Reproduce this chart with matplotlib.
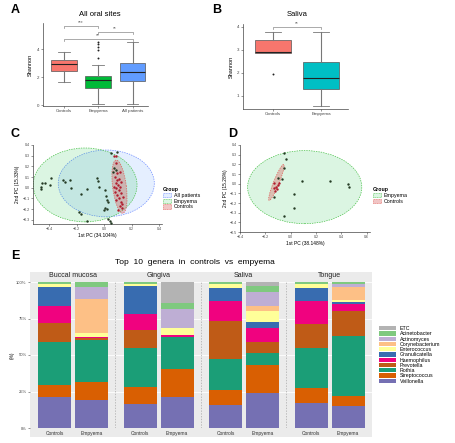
import matplotlib
matplotlib.use("Agg")
import matplotlib.pyplot as plt
from matplotlib.patches import Ellipse, Patch, Rectangle

plt.rcParams["font.family"] = ["Liberation Sans", "DejaVu Sans"]

W, H = 456, 443

# ---- panel A: Shannon, all oral sites
a_groups = ["Controls", "Empyema", "All patients"]
a_whislo = [1.67, 0.07, 0.07]
a_q1 = [2.45, 1.24, 1.74]
a_med = [2.93, 1.79, 2.38]
a_q3 = [3.21, 2.07, 2.98]
a_whishi = [3.81, 2.86, 4.52]
a_fliers = [[], [3.33, 3.95, 4.18, 4.35, 4.52], []]
a_colors = ["#f8766d", "#00ba38", "#619cff"]
a_pairs = [(1, 2), (1, 3), (2, 3)]
a_bracket_y = [5.64, 4.71, 5.21]
a_signif = ["***", "**", "**"]

# ---- panel B: Shannon, saliva
b_groups = ["Controls", "Empyema"]
b_whislo = [2.87, 0.55]
b_q1 = [2.87, 1.29]
b_med = [2.91, 1.76]
b_q3 = [3.42, 2.48]
b_whishi = [3.76, 3.78]
b_fliers = [[1.94], []]
b_colors = ["#f8766d", "#00bfc4"]

# ---- panel C: PCoA, all oral sites
c_other_x = [-0.464, -0.460, -0.452, -0.429, -0.398, -0.388, -0.302, -0.286, -0.25, -0.245,
             -0.167, -0.126, -0.186, -0.171, -0.124, -0.052, -0.048, -0.036, 0.007, 0.012,
             0.017, 0.024, 0.007, 0.017, -0.005, 0.029, 0.040, 0.048, 0.05, 0.095,
             0.069, 0.083, 0.064]
c_other_y = [0.011, -0.014, 0.042, 0.048, 0.026, 0.095, 0.073, 0.057, 0.073, -0.005,
             -0.061, -0.014, -0.229, -0.248, -0.31, 0.095, 0.067, 0.004, -0.021, -0.074,
             -0.114, -0.13, -0.186, -0.201, -0.207, -0.292, -0.31, -0.332, 0.328, 0.335,
             0.182, 0.166, 0.151]
c_ctrl_x = [0.067, 0.083, 0.083, 0.095, 0.114, 0.079, 0.095, 0.107, 0.119, 0.083,
            0.102, 0.112, 0.071, 0.088, 0.107, 0.079, 0.119, 0.095, 0.136, 0.107,
            0.088, 0.119, 0.131, 0.112, 0.126, 0.102]
c_ctrl_y = [0.297, 0.297, 0.229, 0.135, 0.151, 0.104, 0.073, 0.079, 0.057, 0.042,
            0.026, 0.011, 0.011, -0.005, -0.021, -0.036, -0.052, -0.067, -0.083, -0.098,
            -0.114, -0.13, -0.151, -0.176, -0.192, -0.207]
c_groups = ["All patients", "Empyema", "Controls"]
c_ell_center = [(0.014, 0.04), (-0.14, 0.026), (0.11, 0.01)]
c_ell_size = [(0.70, 0.626), (0.756, 0.692), (0.50, 0.10)]
c_ell_angle = [0, 0, 95.5]

# ---- panel D: PCoA, saliva
d_other_x = [-0.057, -0.039, -0.057, -0.104, -0.070, 0.091, 0.307, 0.451, 0.456, 0.026,
             -0.135, 0.026, -0.052]
d_other_y = [0.314, 0.252, 0.166, 0.056, 0.046, 0.032, 0.032, -0.002, -0.036, -0.105,
             -0.133, -0.253, -0.332]
d_ctrl_x = [-0.130, -0.117, -0.135, -0.104, -0.122, -0.109, -0.091]
d_ctrl_y = [0.005, -0.030, -0.047, -0.012, -0.071, -0.057, 0.012]
d_groups = ["Empyema", "Controls"]
d_ell_center = [(0.11, -0.036), (-0.113, 0.013)]
d_ell_size = [(0.90, 0.756), (0.39, 0.045)]
d_ell_angle = [0, 73]

ell_edge = {"All patients": "#6f8dff", "Empyema": "#4cc24c", "Controls": "#e0605a"}
ell_fill = {"All patients": (0.38, 0.61, 1.0, 0.16), "Empyema": (0.0, 0.73, 0.22, 0.14),
            "Controls": (0.85, 0.35, 0.35, 0.35)}

# ---- panel E: top 10 genera
sites = ["Buccal mucosa", "Gingiva", "Saliva", "Tongue"]
conditions = ["Controls", "Empyema"]
genera = ["Veillonella", "Streptococcus", "Rothia", "Prevotella", "Haemophilus",
          "Granulicatella", "Enterococcus", "Corynebacterium", "Actinomyces",
          "Acinetobacter", "ETC"]
# bar order: Buccal C/E, Gingiva C/E, Saliva C/E, Tongue C/E
veillonella = [21.0, 18.9, 16.4, 20.9, 15.5, 24.3, 17.0, 14.8]
streptococcus = [8.4, 13.0, 11.4, 19.3, 10.2, 18.9, 10.2, 7.3]
rothia = [29.5, 28.4, 26.8, 22.3, 21.6, 8.0, 27.3, 41.1]
prevotella = [13.2, 1.6, 12.3, 0.0, 25.9, 7.5, 16.4, 16.8]
haemophilus = [11.8, 0.5, 10.9, 1.1, 13.9, 10.0, 15.9, 4.8]
granulicatella = [13.0, 0.0, 19.3, 0.0, 9.1, 4.1, 9.1, 1.6]
enterococcus = [1.8, 2.5, 1.8, 4.5, 2.7, 7.3, 3.0, 1.6]
corynebacterium = [0.0, 23.9, 0.0, 0.0, 0.0, 3.4, 0.0, 8.6]
actinomyces = [0.0, 8.0, 0.0, 13.2, 0.0, 9.8, 0.0, 2.3]
acinetobacter = [1.1, 3.4, 1.1, 4.5, 1.1, 4.1, 1.1, 1.1]
etc = [0.2, 0.0, 0.0, 14.1, 0.0, 2.7, 0.0, 0.0]
genus_values = [veillonella, streptococcus, rothia, prevotella, haemophilus,
                granulicatella, enterococcus, corynebacterium, actinomyces,
                acinetobacter, etc]
genus_colors = ["#7570b3", "#d95f02", "#1b9e77", "#bf5b17", "#f0027f", "#386cb0",
                "#ffff99", "#fdc086", "#beaed4", "#7fc97f", "#b3b3b3"]


def add_ax(x0, y0, x1, y1):
    return fig.add_axes([x0 / W, 1 - y1 / H, (x1 - x0) / W, (y1 - y0) / H])


def style_classic(ax):
    for s in ["top", "right"]:
        ax.spines[s].set_visible(False)
    for s in ["left", "bottom"]:
        ax.spines[s].set_linewidth(0.5)
        ax.spines[s].set_color("#444444")
    ax.tick_params(labelsize=3.2, length=1.5, width=0.4, pad=1, colors="#444444")


def boxes(ax, groups, lo, q1, med, q3, hi, fliers, colors):
    stats = []
    for i in range(len(groups)):
        stats.append({"whislo": lo[i], "q1": q1[i], "med": med[i], "q3": q3[i],
                      "whishi": hi[i], "fliers": fliers[i], "label": groups[i]})
    bp = ax.bxp(stats, widths=0.75, patch_artist=True, showfliers=True,
                boxprops=dict(linewidth=0.5, edgecolor="#555555"),
                whiskerprops=dict(color="#777777", linewidth=0.8),
                capprops=dict(color="#777777", linewidth=0.6),
                medianprops=dict(color="#222222", linewidth=0.8),
                flierprops=dict(marker="o", markersize=1.4, markerfacecolor="#222222",
                                markeredgecolor="none"))
    for patch, col in zip(bp["boxes"], colors):
        patch.set_facecolor(col)
    for cap in bp["caps"]:
        x = cap.get_xdata()
        c = x.mean()
        cap.set_xdata([c - 0.17, c + 0.17])


def bracket(ax, x1, x2, y, label, drop):
    ax.plot([x1, x1, x2, x2], [y - drop, y, y, y - drop], color="#888888", lw=0.5,
            clip_on=False)
    ax.text((x1 + x2) / 2, y + drop * 0.4, label, ha="center", va="bottom",
            fontsize=3.5, color="#666666")


def pcoa(ax, groups, centers, sizes, angles, ox, oy, cx, cy):
    for g, c, s, a in zip(groups, centers, sizes, angles):
        ax.add_patch(Ellipse(c, s[0], s[1], angle=a, facecolor=ell_fill[g],
                             edgecolor=ell_edge[g], linestyle=(0, (2, 1.5)), lw=0.5))
    ax.scatter(ox, oy, s=3, color="#243b24", zorder=3, linewidths=0)
    ax.scatter(cx, cy, s=3, color="#b01c2e", zorder=3, linewidths=0)
    style_classic(ax)
    ax.tick_params(labelsize=2.6)


def group_legend(groups, x, y):
    handles = [Patch(facecolor=ell_fill[g], edgecolor=ell_edge[g], linestyle=(0, (2, 1)),
                     lw=0.4) for g in groups]
    leg = fig.legend(handles, groups, loc="upper left", bbox_to_anchor=(x / W, 1 - y / H),
                     fontsize=3.8, frameon=False, title="Group", handlelength=1.6,
                     handleheight=0.9, labelspacing=0.15, handletextpad=0.5,
                     borderpad=0, borderaxespad=0)
    leg.get_title().set_fontsize(3.8)
    leg.get_title().set_fontweight("bold")
    leg._legend_box.align = "left"


fig = plt.figure(figsize=(W / 100, H / 100), dpi=100)

# panel A
ax_a = add_ax(43, 23, 148, 106)
boxes(ax_a, a_groups, a_whislo, a_q1, a_med, a_q3, a_whishi, a_fliers, a_colors)
for (i, j), y, lab in zip(a_pairs, a_bracket_y, a_signif):
    bracket(ax_a, i, j, y, lab, 0.12)
ax_a.set_xlim(0.4, 3.45)
ax_a.set_ylim(-0.07, 5.86)
ax_a.set_yticks([0, 2, 4])
style_classic(ax_a)
ax_a.set_ylabel("Shannon", fontsize=4, labelpad=3)
fig.text(100 / W, 1 - 15 / H, "All oral sites", ha="center", va="center", fontsize=5.5)

# panel B
ax_b = add_ax(243, 24, 348, 109)
boxes(ax_b, b_groups, b_whislo, b_q1, b_med, b_q3, b_whishi, b_fliers, b_colors)
bracket(ax_b, 1, 2, 4.0, "**", 0.08)
ax_b.set_xlim(0.375, 2.56)
ax_b.set_ylim(0.42, 4.12)
ax_b.set_yticks([1, 2, 3, 4])
style_classic(ax_b)
ax_b.set_ylabel("Shannon", fontsize=4, labelpad=2)
fig.text(297 / W, 1 - 14 / H, "Saliva", ha="center", va="center", fontsize=5.5)

# panel C
ax_c = add_ax(33, 145, 162, 224)
pcoa(ax_c, c_groups, c_ell_center, c_ell_size, c_ell_angle,
     c_other_x, c_other_y, c_ctrl_x, c_ctrl_y)
ax_c.set_xlim(-0.52, 0.42)
ax_c.set_ylim(-0.34, 0.40)
ax_c.set_xticks([-0.4, -0.2, 0.0, 0.2, 0.4])
ax_c.set_yticks([-0.3, -0.2, -0.1, 0.0, 0.1, 0.2, 0.3, 0.4])
ax_c.set_xlabel("1st PC (34.104%)", fontsize=3.5, labelpad=1)
ax_c.set_ylabel("2nd PC (15.33%)", fontsize=3.5, labelpad=2)
group_legend(c_groups, 163, 187)

# panel D
ax_d = add_ax(240, 145, 370, 232)
pcoa(ax_d, d_groups, d_ell_center, d_ell_size, d_ell_angle,
     d_other_x, d_other_y, d_ctrl_x, d_ctrl_y)
ax_d.set_xlim(-0.39, 0.625)
ax_d.set_ylim(-0.5, 0.4)
ax_d.set_xticks([-0.4, -0.2, 0.0, 0.2, 0.4, 0.6])
ax_d.set_yticks([-0.5, -0.4, -0.3, -0.2, -0.1, 0.0, 0.1, 0.2, 0.3, 0.4])
ax_d.set_xlabel("1st PC (38.148%)", fontsize=3.5, labelpad=1)
ax_d.set_ylabel("2nd PC (15.28%)", fontsize=3.5, labelpad=1)
group_legend(d_groups, 373, 187)

# panel E
fig.add_artist(Rectangle((30 / W, 1 - 437 / H), 342 / W, 165 / H, transform=fig.transFigure,
                         facecolor="#ebebeb", edgecolor="none", zorder=-1))
ax_e = add_ax(30, 282, 372, 428)
ax_e.set_facecolor("none")
offsets = [0.29, 0.72]
xs, xlabels = [], []
for i in range(len(sites)):
    for k in range(len(conditions)):
        xs.append(i + offsets[k])
        xlabels.append(conditions[k])
totals = [sum(v[b] for v in genus_values) for b in range(len(xs))]
bottom = [0.0] * len(xs)
for vals, col in zip(genus_values, genus_colors):
    h = [100 * v / t for v, t in zip(vals, totals)]
    ax_e.bar(xs, h, width=0.385, bottom=bottom, color=col, edgecolor="none", zorder=2)
    bottom = [b + hh for b, hh in zip(bottom, h)]
for i in range(1, len(sites)):
    ax_e.axvline(i, color="#a8a8a8", lw=0.5, ls=(0, (2, 2)), zorder=1)
for i, s in enumerate(sites):
    ax_e.text(i + 0.5, 104.2, s, ha="center", va="center", fontsize=5, color="#222222")
ax_e.set_xlim(0, 4)
ax_e.set_ylim(0, 100)
ax_e.set_yticks([0, 25, 50, 75, 100])
ax_e.set_yticklabels(["0%", "25%", "50%", "75%", "100%"])
ax_e.set_xticks(xs)
ax_e.set_xticklabels(xlabels)
ax_e.grid(axis="y", color="white", lw=0.6)
ax_e.set_axisbelow(True)
for s in ax_e.spines.values():
    s.set_visible(False)
ax_e.tick_params(axis="x", labelsize=3.5, length=0, pad=2.5, colors="#333333")
ax_e.tick_params(axis="y", labelsize=3, length=1.5, width=0.4, pad=1, colors="#444444")
ax_e.set_ylabel("(%)", fontsize=3.5, labelpad=1)
fig.text(195 / W, 1 - 262 / H, "Top  10  genera  in  controls  vs  empyema",
         ha="center", va="center", fontsize=6)
e_handles = [Patch(facecolor=c, edgecolor="none") for c in genus_colors[::-1]]
fig.legend(e_handles, genera[::-1], loc="upper left", bbox_to_anchor=(379 / W, 1 - 326 / H),
           fontsize=3.8, frameon=False, handlelength=3.3, handleheight=0.85,
           labelspacing=0.05, handletextpad=0.6, borderpad=0, borderaxespad=0)

# panel letters
for lab, x, y in [("A", 15, 10), ("B", 217, 10), ("C", 15, 134), ("D", 233, 134),
                  ("E", 15, 256)]:
    fig.text(x / W, 1 - y / H, lab, ha="center", va="center", fontsize=9, weight="bold")

fig.savefig("out.png", dpi=100)
